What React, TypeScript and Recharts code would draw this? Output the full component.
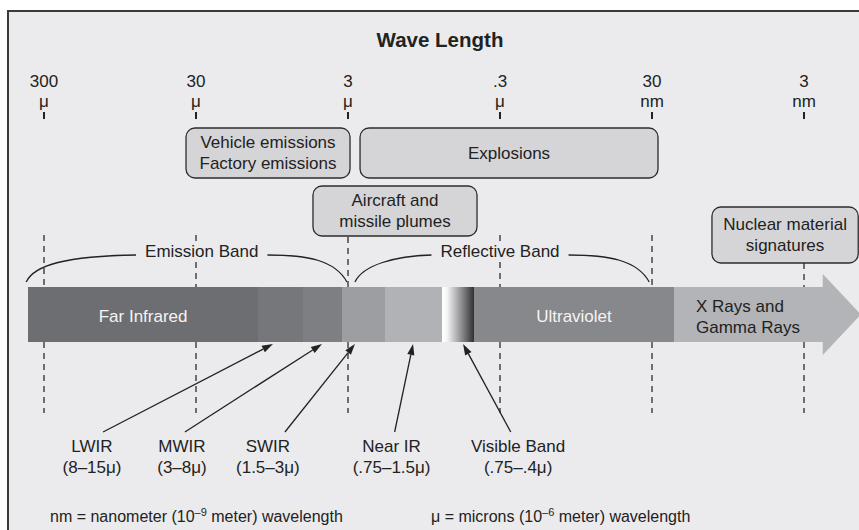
import React from "react";
import { ComposedChart, XAxis, YAxis, ReferenceArea, ReferenceLine, ReferenceDot, Scatter } from "recharts";

const W = 859;
const H = 530;
const FONT = '"Liberation Sans", Arial, Helvetica, sans-serif';
const INK = "#222222";
const BG = "#ebebed";

// Wave length axis, in microns. Log scale, short waves to the right.
const tickWavelengths = [300, 30, 3, 0.3, 0.03, 0.003];
const tickNumbers = ["300", "30", "3", ".3", "30", "3"];
const tickUnits = ["μ", "μ", "μ", "μ", "nm", "nm"];

// Spectrum bar segments (microns)
const spectrumNames = ["Far Infrared", "LWIR", "MWIR", "SWIR", "Near IR", "Visible", "Ultraviolet", "X Rays and\nGamma Rays"];
const spectrumFrom = [382, 11.7, 5.93, 3.29, 1.71, 0.723, 0.445, 0.0215];
const spectrumTo = [11.7, 5.93, 3.29, 1.71, 0.723, 0.445, 0.0215, 0.00127];
const spectrumShowName = [true, false, false, false, false, false, true, true];

// Signature sources (boxes), microns
const sourceNames = [["Vehicle emissions", "Factory emissions"], ["Explosions"], ["Aircraft and", "missile plumes"], ["Nuclear material", "signatures"]];
const sourceFrom = [34.9, 2.5, 5.1, 0.0121];
const sourceTo = [2.91, 0.0274, 0.425, 0.00132];

// Emission / reflective bands (braces), microns
const bandNames = ["Emission Band", "Reflective Band"];
const bandFrom = [393, 2.7];
const bandTo = [3.05, 0.0313];
const bandLabelAt = [27.5, 0.3];

// Sensor bands pointing at the bar, microns
const sensorNames = ["LWIR", "MWIR", "SWIR", "Near IR", "Visible Band"];
const sensorRanges = ["(8–15μ)", "(3–8μ)", "(1.5–3μ)", "(.75–1.5μ)", "(.75–.4μ)"];
const sensorTarget = [9.35, 4.45, 2.7, 1.12, 0.525];
const sensorTail = [122.6, 35.5, 7.8, 1.48, 0.255];
const sensorLabelAt = [145, 37.1, 10.1, 1.55, 0.228];

// axis position: decades of wavelength, growing to the right as waves get shorter
const pos = (um: number) => -Math.log10(um);
const X_DOMAIN: [number, number] = [pos(584.2), pos(0.0013045)];

// layout (y axis is 1:1 with the picture height)
const TICK_ROW = 115;
const segFill = ["#6d6e71", "#76777a", "#7e7f82", "#9d9ea2", "#b1b2b6", "url(#visibleBand)", "#87888b", "#b3b4b7"];
const sourceRows = [[128, 178], [128, 178], [186, 236], [207, 263]];
const dashSegments = [
  [[235, 287]],
  [[235, 241], [262, 287]],
  [[237, 287]],
  [[235, 241], [262, 287]],
  [[235, 287]],
  [[263, 287]],
];

const tickData = tickWavelengths.map((w, i) => ({ x: pos(w), y: TICK_ROW, num: tickNumbers[i], unit: tickUnits[i] }));

function textWidth(t: string, size: number) {
  const ctx = typeof document !== "undefined" ? document.createElement("canvas").getContext("2d") : null;
  if (!ctx) return t.length * size * 0.52;
  ctx.font = `${size}px "Liberation Sans", Arial, sans-serif`;
  return ctx.measureText(t).width;
}

// tick mark + two-line wavelength label
// eslint-disable-next-line @typescript-eslint/no-explicit-any
const TickMark = (p: any) => {
  const { cx, cy, payload } = p;
  if (cx == null || cy == null) return <g />;
  return (
    <g>
      <text x={cx} y={cy - 28} textAnchor="middle" fontSize={17} fill={INK} fontFamily={FONT}>{payload.num}</text>
      <text x={cx} y={cy - 8} textAnchor="middle" fontSize={17} fill={INK} fontFamily={FONT}>{payload.unit}</text>
      <line x1={cx} x2={cx} y1={cy - 3} y2={cy + 4} stroke={INK} strokeWidth={2} />
    </g>
  );
};

// eslint-disable-next-line @typescript-eslint/no-explicit-any
const segmentShape = (i: number) => (p: any) => {
  const { x, y, width, height } = p;
  const cy = y + height / 2;
  if (i === 7) {
    const tip = x + width;
    const base = tip - 38;
    return (
      <g>
        <polygon
          points={`${x},${y} ${base},${y} ${base},${cy - 40.5} ${tip},${cy} ${base},${cy + 40.5} ${base},${y + height} ${x},${y + height}`}
          fill={segFill[i]}
        />
        <text x={x + 22} y={312} fontSize={17} fill={INK} fontFamily={FONT}>X Rays and</text>
        <text x={x + 22} y={333} fontSize={17} fill={INK} fontFamily={FONT}>Gamma Rays</text>
      </g>
    );
  }
  return (
    <g>
      {i === 5 && (
        <defs>
          <linearGradient id="visibleBand" x1="0" y1="0" x2="1" y2="0">
            <stop offset="0" stopColor="#ffffff" />
            <stop offset="0.15" stopColor="#f6f6f6" />
            <stop offset="0.55" stopColor="#9a9a9c" />
            <stop offset="1" stopColor="#2c2c2e" />
          </linearGradient>
        </defs>
      )}
      <rect x={x} y={y} width={width + 0.5} height={height} fill={segFill[i]} shapeRendering="crispEdges" />
      {spectrumShowName[i] && (
        <text x={x + width / 2} y={322} textAnchor="middle" fontSize={17} fill="#f4f4f4" fontFamily={FONT}>
          {spectrumNames[i]}
        </text>
      )}
    </g>
  );
};

// eslint-disable-next-line @typescript-eslint/no-explicit-any
const boxShape = (i: number) => (p: any) => {
  const { x, y, width, height } = p;
  const lines = sourceNames[i];
  const cx = x + width / 2;
  const cy = y + height / 2;
  const first = lines.length === 1 ? cy + 6 : cy - 5;
  return (
    <g>
      <rect x={x} y={y} width={width} height={height} rx={9} ry={9} fill="#d5d5d7" stroke="#2c2c2c" strokeWidth={1.3} />
      {lines.map((t, k) => (
        <text key={k} x={cx} y={first + k * 21} textAnchor="middle" fontSize={17} fill={INK} fontFamily={FONT}>{t}</text>
      ))}
    </g>
  );
};

// eslint-disable-next-line @typescript-eslint/no-explicit-any
const braceShape = (i: number) => (p: any) => {
  const { x, y, width, height } = p;
  const x0 = x;
  const x1 = x + width;
  const yt = y;
  const yb = y + height;
  const frac = (pos(bandLabelAt[i]) - pos(bandFrom[i])) / (pos(bandTo[i]) - pos(bandFrom[i]));
  const tc = x0 + frac * width;
  const half = textWidth(bandNames[i], 17) / 2 + 9;
  const gs = tc - half;
  const ge = tc + half;
  return (
    <g>
      <path d={`M${x0},${yb} C${x0 + 8},${yt + 10} ${x0 + 40},${yt + 1} ${gs},${yt}`} fill="none" stroke={INK} strokeWidth={1.3} />
      <path d={`M${ge},${yt} C${ge + 40},${yt} ${x1 - 12},${yt + 5} ${x1},${yb}`} fill="none" stroke={INK} strokeWidth={1.3} />
      <text x={tc} y={yt + 2} textAnchor="middle" fontSize={17} fill={INK} fontFamily={FONT}>{bandNames[i]}</text>
    </g>
  );
};

// eslint-disable-next-line @typescript-eslint/no-explicit-any
const ArrowShape = (p: any) => {
  const { x1, y1, x2, y2 } = p;
  const dx = x2 - x1;
  const dy = y2 - y1;
  const len = Math.hypot(dx, dy) || 1;
  const ux = dx / len;
  const uy = dy / len;
  const hl = 11;
  const hw = 3.6;
  const bx = x2 - ux * hl;
  const by = y2 - uy * hl;
  return (
    <g>
      <line x1={x1} y1={y1} x2={bx} y2={by} stroke={INK} strokeWidth={1.3} />
      <polygon points={`${x2},${y2} ${bx - uy * hw},${by + ux * hw} ${bx + uy * hw},${by - ux * hw}`} fill={INK} />
    </g>
  );
};

// eslint-disable-next-line @typescript-eslint/no-explicit-any
const sensorLabel = (i: number) => (p: any) => {
  const { cx, cy } = p;
  return (
    <g>
      <text x={cx} y={cy} textAnchor="middle" fontSize={17} fill={INK} fontFamily={FONT}>{sensorNames[i]}</text>
      <text x={cx} y={cy + 21} textAnchor="middle" fontSize={17} fill={INK} fontFamily={FONT}>{sensorRanges[i]}</text>
    </g>
  );
};

export default function App() {
  return (
    <div style={{ position: "absolute", left: 0, top: 0, width: W, height: H, overflow: "hidden", background: "#ffffff", fontFamily: FONT }}>
      <div
        style={{
          position: "absolute",
          left: 7,
          top: 10,
          width: 900,
          height: 600,
          background: BG,
          borderTop: "2px solid #3a3a3a",
          borderLeft: "2px solid #3a3a3a",
        }}
      />
      <div style={{ position: "absolute", left: 0, top: 0 }}>
        <ComposedChart width={W} height={H} data={tickData} margin={{ top: 0, right: 0, bottom: 0, left: 0 }}>
          <XAxis dataKey="x" type="number" domain={X_DOMAIN} allowDataOverflow hide />
          <YAxis dataKey="y" type="number" domain={[0, H]} reversed hide allowDataOverflow />

          {tickWavelengths.map((w, i) =>
            [...dashSegments[i], [342, 413]].map((s, k) => (
              <ReferenceLine
                key={`d${i}-${k}`}
                segment={[{ x: pos(w), y: s[0] }, { x: pos(w), y: s[1] }]}
                stroke="#2c2c2c"
                strokeWidth={1.3}
                strokeDasharray="6 5"
                ifOverflow="visible"
              />
            ))
          )}

          {spectrumNames.map((n, i) => (
            <ReferenceArea key={n} x1={pos(spectrumFrom[i])} x2={pos(spectrumTo[i])} y1={287} y2={342} ifOverflow="visible" shape={segmentShape(i)} />
          ))}

          {sourceNames.map((n, i) => (
            <ReferenceArea
              key={n[0]}
              x1={pos(sourceFrom[i])}
              x2={pos(sourceTo[i])}
              y1={sourceRows[i][0]}
              y2={sourceRows[i][1]}
              ifOverflow="visible"
              shape={boxShape(i)}
            />
          ))}

          {bandNames.map((n, i) => (
            <ReferenceArea key={n} x1={pos(bandFrom[i])} x2={pos(bandTo[i])} y1={255} y2={282} ifOverflow="visible" shape={braceShape(i)} />
          ))}

          {sensorNames.map((n, i) => (
            <ReferenceLine
              key={`a${n}`}
              segment={[{ x: pos(sensorTail[i]), y: 432 }, { x: pos(sensorTarget[i]), y: 344 }]}
              ifOverflow="visible"
              shape={ArrowShape}
            />
          ))}

          {sensorNames.map((n, i) => (
            <ReferenceDot key={`l${n}`} x={pos(sensorLabelAt[i])} y={452} r={1} ifOverflow="visible" shape={sensorLabel(i)} />
          ))}

          <Scatter dataKey="y" isAnimationActive={false} shape={TickMark} />
        </ComposedChart>
      </div>
      <svg width={W} height={H} style={{ position: "absolute", left: 0, top: 0, pointerEvents: "none" }}>
        <text x={440} y={47} textAnchor="middle" fontSize={20.5} fontWeight={700} fill={INK} fontFamily={FONT}>Wave Length</text>
        <text x={50} y={522} fontSize={16} fill={INK} fontFamily={FONT}>
          nm = nanometer (10<tspan fontSize={11} dy={-6}>–9</tspan>
          <tspan dy={6}> meter) wavelength</tspan>
        </text>
        <text x={431} y={522} fontSize={16} fill={INK} fontFamily={FONT}>
          μ = microns (10<tspan fontSize={11} dy={-6}>–6</tspan>
          <tspan dy={6}> meter) wavelength</tspan>
        </text>
      </svg>
    </div>
  );
}
